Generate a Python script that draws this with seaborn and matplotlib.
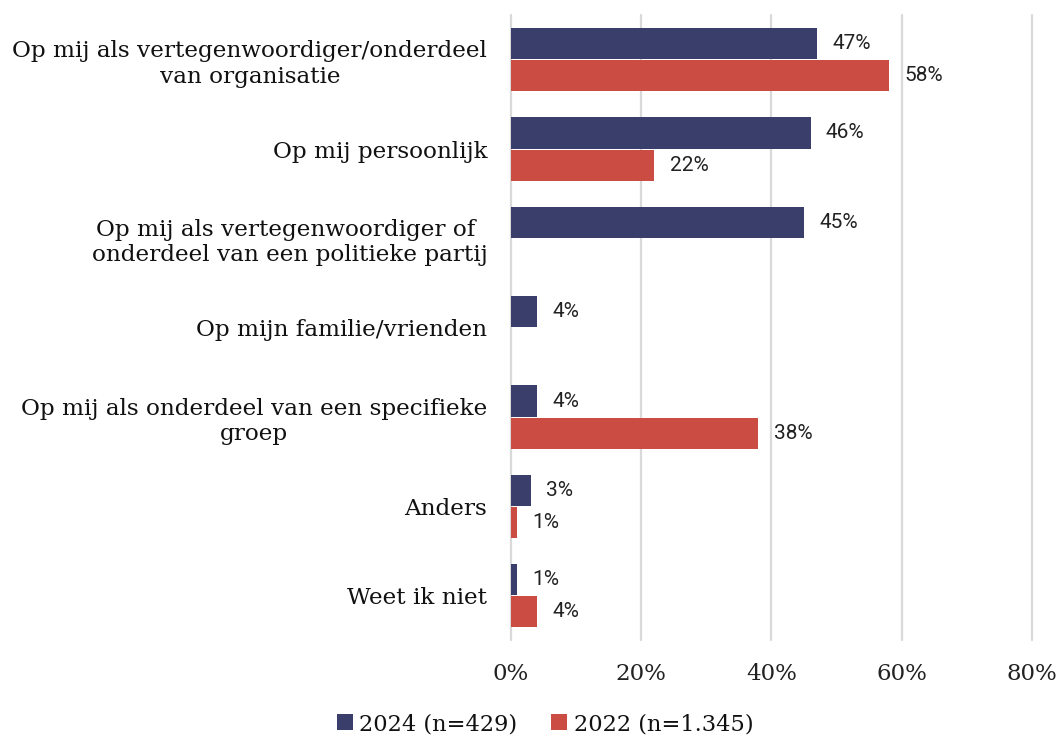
import matplotlib
matplotlib.use("Agg")
import matplotlib.pyplot as plt
import seaborn as sns
import pandas as pd
import numpy as np

categories = [
    "Op mij als vertegenwoordiger/onderdeel\nvan organisatie",
    "Op mij persoonlijk",
    "Op mij als vertegenwoordiger of \nonderdeel van een politieke partij",
    "Op mijn familie/vrienden",
    "Op mij als onderdeel van een specifieke\ngroep",
    "Anders",
    "Weet ik niet",
]
series_names = ["2024 (n=429)", "2022 (n=1.345)"]
values_2024 = [47, 46, 45, 4, 4, 3, 1]
values_2022 = [58, 22, np.nan, np.nan, 38, 1, 4]
colors = ["#3A3E6A", "#CB4C43"]
xticks = [0, 20, 40, 60, 80]

df = pd.DataFrame({
    "cat": categories * 2,
    "series": [series_names[0]] * 7 + [series_names[1]] * 7,
    "value": values_2024 + values_2022,
})

sns.set_theme(style="white")
plt.rcParams["font.family"] = ["DejaVu Serif"]

fig = plt.figure(figsize=(10.63, 7.40), dpi=100)
ax = fig.add_axes([0.4807, 0.1345, 0.9708 - 0.4807, 0.9797 - 0.1345])

sns.barplot(data=df, y="cat", x="value", hue="series", order=categories,
            hue_order=series_names, palette=colors, orient="h",
            width=0.72, gap=0.03, saturation=1, linewidth=0,
            ax=ax, legend=True)

for cont in ax.containers:
    labels = ["" if np.isnan(v) else f"{v:.0f}%" for v in cont.datavalues]
    ax.bar_label(cont, labels=labels, padding=11, fontsize=15,
                 family="Roboto", color="#222222")

ax.set_xlim(0, 80)
ax.set_xticks(xticks)
ax.set_xticklabels([f"{t}%" for t in xticks], fontsize=16.5, color="#222222")
ax.tick_params(axis="x", length=0, pad=16)
ax.tick_params(axis="y", length=0, pad=17)
for lab in ax.get_yticklabels():
    lab.set_fontsize(16.7)
    lab.set_multialignment("center")
    lab.set_color("#111111")
ax.set_xlabel("")
ax.set_ylabel("")
ax.grid(axis="x", color="#D9D9D9", linewidth=1.6)
for gl in ax.get_xgridlines():
    gl.set_clip_on(False)
ax.set_axisbelow(True)
for s in ax.spines.values():
    s.set_visible(False)

leg = ax.legend(ncol=2, frameon=False, fontsize=16.2, handlelength=0.7,
                handleheight=0.7, handletextpad=0.3, columnspacing=1.5,
                borderaxespad=0, loc="center",
                bbox_to_anchor=(545 / 1063, 1 - 724 / 740),
                bbox_transform=fig.transFigure)
for t in leg.get_texts():
    t.set_color("#111111")

fig.savefig("out.png", dpi=100)
